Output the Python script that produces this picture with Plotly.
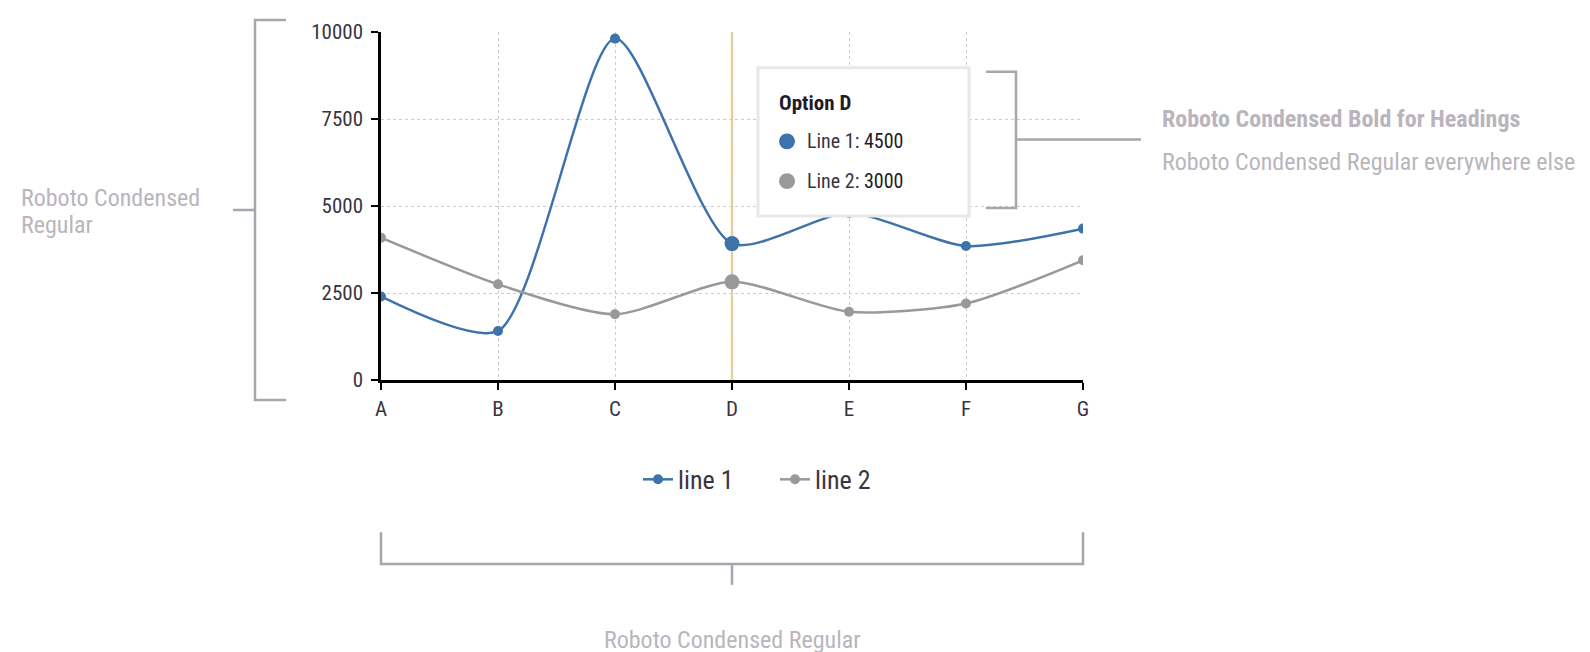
import plotly.graph_objects as go

categories = ["A", "B", "C", "D", "E", "F", "G"]
line1 = [2400, 1410, 9810, 3920, 4800, 3850, 4350]
line2 = [4090, 2750, 1890, 2820, 1960, 2200, 3440]
y_ticks = [0, 2500, 5000, 7500, 10000]
active_index = 3
tooltip_title = "Option D"
tooltip_values = [4500, 3000]

FONT = "Roboto Condensed, Liberation Sans Narrow, DejaVu Sans Condensed, Roboto, sans-serif"
BLUE = "#3d72ab"
GRAY = "#999999"
YELLOW = "#fdd06b"
TXT = "#3a3440"
NOTE = "#bab5bc"
BRACKET = "#aaa5ac"

W, H = 1590, 652
L, R, T, B = 373, 1075, 22, 372


def px(x):
    return (x - L) / (R - L)


def py(y):
    return (B - y) / (B - T)


fig = go.Figure()
fig.add_trace(go.Scatter(
    x=categories, y=line1, name="line 1", mode="lines+markers",
    line=dict(color=BLUE, width=2.5, shape="spline", smoothing=0.7),
    marker=dict(color=BLUE, size=10),
))
fig.add_trace(go.Scatter(
    x=categories, y=line2, name="line 2", mode="lines+markers",
    line=dict(color=GRAY, width=2.5, shape="spline", smoothing=0.7),
    marker=dict(color=GRAY, size=10),
))
fig.add_trace(go.Scatter(
    x=[categories[active_index]], y=[line1[active_index]], mode="markers",
    marker=dict(color=BLUE, size=15), showlegend=False, hoverinfo="skip",
))
fig.add_trace(go.Scatter(
    x=[categories[active_index]], y=[line2[active_index]], mode="markers",
    marker=dict(color=GRAY, size=15), showlegend=False, hoverinfo="skip",
))

shapes = []
# cursor line
shapes.append(dict(type="line", xref="x", yref="paper",
                   x0=categories[active_index], x1=categories[active_index],
                   y0=0, y1=1, line=dict(color=YELLOW, width=2.5), layer="between"))
# tooltip box
shapes.append(dict(type="rect", xref="paper", yref="paper",
                   x0=px(750), x1=px(961), y0=py(207), y1=py(58),
                   fillcolor="white", line=dict(color="#e8e8e8", width=3), layer="above"))
for col, yc in [(BLUE, 132), (GRAY, 172)]:
    shapes.append(dict(type="circle", xref="paper", yref="paper",
                       x0=px(771), x1=px(787), y0=py(yc + 8), y1=py(yc - 8),
                       fillcolor=col, line=dict(width=0), layer="above"))


def bracket(points):
    return "M " + " L ".join(f"{px(x)},{py(y)}" for x, y in points)


bracket_paths = [
    bracket([(278, 10), (247, 10), (247, 392), (278, 392)]),
    bracket([(225, 201), (247, 201)]),
    bracket([(978, 62), (1008, 62), (1008, 199), (978, 199)]),
    bracket([(1008, 130), (1133, 130)]),
    bracket([(373, 525), (373, 557), (1075, 557), (1075, 525)]),
    bracket([(724, 557), (724, 578)]),
]
for p in bracket_paths:
    shapes.append(dict(type="path", xref="paper", yref="paper", path=p,
                       line=dict(color=BRACKET, width=2.5), layer="above"))

annotations = [
    dict(x=px(769), y=py(93), text=f"<b>{tooltip_title}</b>",
         font=dict(size=21, color="#1f1a25", family=FONT)),
    dict(x=px(797), y=py(132),
         text=f"Line 1: <span style='color:#1f1a25'>{tooltip_values[0]}</span>",
         font=dict(size=20, color=TXT, family=FONT)),
    dict(x=px(797), y=py(172),
         text=f"Line 2: <span style='color:#1f1a25'>{tooltip_values[1]}</span>",
         font=dict(size=20, color=TXT, family=FONT)),
    dict(x=px(1152), y=py(109), text="<b>Roboto Condensed Bold for Headings</b>",
         font=dict(size=24, color=NOTE, family=FONT)),
    dict(x=px(1152), y=py(153), text="Roboto Condensed Regular everywhere else",
         font=dict(size=24, color=NOTE, family=FONT)),
    dict(x=px(11), y=py(189), text="Roboto Condensed",
         font=dict(size=24, color=NOTE, family=FONT)),
    dict(x=px(11), y=py(216), text="Regular",
         font=dict(size=24, color=NOTE, family=FONT)),
]
for a in annotations:
    a.update(xref="paper", yref="paper", xanchor="left", yanchor="middle",
             showarrow=False, align="left")
annotations.append(dict(xref="paper", yref="paper", x=px(724), y=py(633),
                        xanchor="center", yanchor="middle", showarrow=False,
                        text="Roboto Condensed Regular",
                        font=dict(size=24, color=NOTE, family=FONT)))

fig.update_layout(
    width=W, height=H,
    margin=dict(l=L, r=W - R, t=T, b=H - B, pad=0),
    paper_bgcolor="white", plot_bgcolor="white",
    font=dict(family=FONT, size=21, color=TXT),
    showlegend=True,
    legend=dict(orientation="h", x=px(630), xanchor="left", y=py(472), yanchor="middle",
                font=dict(size=26, color=TXT, family=FONT), itemwidth=30,
                entrywidth=92, entrywidthmode="pixels",
                bgcolor="rgba(0,0,0,0)"),
    shapes=shapes,
    annotations=annotations,
    hovermode=False,
)
fig.update_xaxes(
    type="category", categoryorder="array", categoryarray=categories,
    range=[0, len(categories) - 1],
    showline=True, linecolor="black", linewidth=2.5,
    ticks="outside", ticklen=7, tickwidth=2, tickcolor="black",
    showgrid=True, gridcolor="#cccccc", griddash="dot", gridwidth=1,
    tickfont=dict(size=21, color=TXT), ticklabelstandoff=1,
    zeroline=False,
)
fig.update_yaxes(
    range=[0, 10000], tickvals=y_ticks, ticktext=[str(v) for v in y_ticks],
    showline=True, linecolor="black", linewidth=2.5,
    ticks="outside", ticklen=7, tickwidth=2, tickcolor="black",
    showgrid=True, gridcolor="#cccccc", griddash="dot", gridwidth=1,
    tickfont=dict(size=21, color=TXT), ticklabelstandoff=4,
    zeroline=False,
)

fig.write_html("out.html")
